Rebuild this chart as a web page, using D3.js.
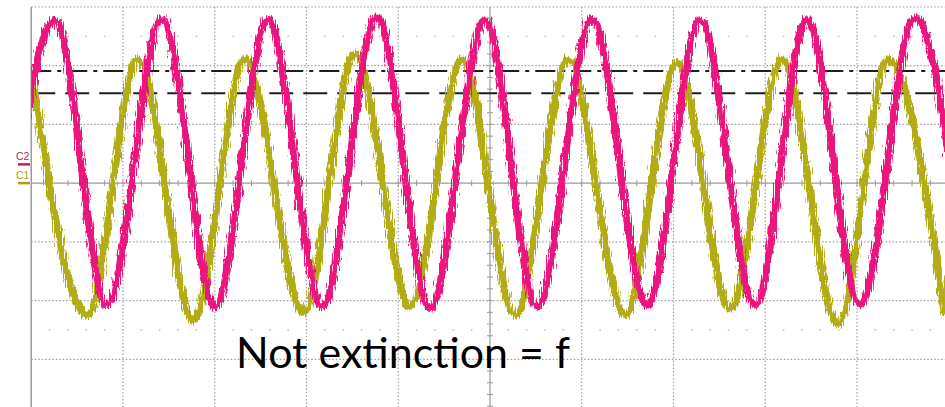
<!DOCTYPE html>
<html>
<head>
<meta charset="utf-8">
<script src="https://cdn.jsdelivr.net/npm/d3@7"></script>
<style>
  html, body { margin: 0; padding: 0; background: #fff; }
  svg { display: block; }
</style>
</head>
<body>
<svg id="scope" width="945" height="407"></svg>
<script>
// scope readings, in divisions (time) and divisions (volts)
var c2Times = [-0.33, 0.259, 0.826, 1.425, 2.003, 2.58, 3.169, 3.768, 4.346, 4.946, 5.513, 6.112, 6.712, 7.289, 7.889, 8.455, 9.033, 9.632, 10.21];
var c2Values = [-2.05, 2.78, -2.07, 2.8, -2.1, 2.78, -2.1, 2.82, -2.13, 2.78, -2.1, 2.8, -2.07, 2.78, -2.07, 2.78, -2.07, 2.82, -2.08];

var c1Times = [0.0, 0.608, 1.163, 1.764, 2.33, 2.963, 3.529, 4.129, 4.695, 5.273, 5.85, 6.472, 7.038, 7.616, 8.182, 8.793, 9.338, 9.958];
var c1Values = [1.95, -2.25, 2.11, -2.33, 2.11, -2.2, 2.2, -2.1, 2.1, -2.25, 2.1, -2.25, 2.05, -2.13, 2.1, -2.4, 2.1, -2.25];

var cursorLevels = [1.91, 1.53];
var groundLevels = { C2: 0.32, C1: 0 };
var caption = "Not extinction = f";

var svg = d3.select("#scope"),
  width = +svg.attr("width"),
  height = +svg.attr("height");

var x = d3.scaleLinear().domain([0, 10]).range([31.25, 948.75]);
var y = d3.scaleLinear().domain([-4, 3]).range([418, 7]);

var defs = svg.append("defs");
defs
  .append("clipPath")
  .attr("id", "screen")
  .append("rect")
  .attr("x", x(0))
  .attr("y", y(3) - 1)
  .attr("width", width - x(0))
  .attr("height", height);

// rough edges like the noisy trace
var rough = defs
  .append("filter")
  .attr("id", "rough")
  .attr("x", "-5%")
  .attr("y", "-5%")
  .attr("width", "110%")
  .attr("height", "110%");
rough
  .append("feTurbulence")
  .attr("type", "fractalNoise")
  .attr("baseFrequency", "0.9 0.08")
  .attr("numOctaves", 2)
  .attr("seed", 3)
  .attr("result", "noise");
rough
  .append("feDisplacementMap")
  .attr("in", "SourceGraphic")
  .attr("in2", "noise")
  .attr("scale", 9)
  .attr("xChannelSelector", "R")
  .attr("yChannelSelector", "G");

var grid = svg.append("g");

// dotted graticule
grid
  .selectAll("line.hgrid")
  .data(d3.range(-4, 4).filter((d) => d !== 0))
  .join("line")
  .attr("class", "hgrid")
  .attr("x1", x(0))
  .attr("x2", width)
  .attr("y1", (d) => y(d))
  .attr("y2", (d) => y(d))
  .attr("stroke", "#a0a0a0")
  .attr("stroke-width", 1.2)
  .attr("stroke-dasharray", "1.5,2");

grid
  .selectAll("line.vgrid")
  .data(d3.range(1, 10).filter((d) => d !== 5))
  .join("line")
  .attr("class", "vgrid")
  .attr("x1", (d) => x(d))
  .attr("x2", (d) => x(d))
  .attr("y1", y(3))
  .attr("y2", height)
  .attr("stroke", "#a0a0a0")
  .attr("stroke-width", 1.2)
  .attr("stroke-dasharray", "1.5,2");

// faint dot rows
[2.5, -2.5].forEach((lvl) => {
  grid
    .append("g")
    .selectAll("circle")
    .data(d3.range(1, 50))
    .join("circle")
    .attr("cx", (d) => x(d / 5))
    .attr("cy", y(lvl))
    .attr("r", 0.9)
    .attr("fill", "#c4c4c4");
});

// solid center axes and left edge
grid
  .append("line")
  .attr("x1", x(0))
  .attr("x2", x(0))
  .attr("y1", y(3))
  .attr("y2", height)
  .attr("stroke", "#9a9a9a")
  .attr("stroke-width", 1.5);
grid
  .append("line")
  .attr("x1", x(0))
  .attr("x2", width)
  .attr("y1", y(0))
  .attr("y2", y(0))
  .attr("stroke", "#9a9a9a")
  .attr("stroke-width", 1.2);
grid
  .append("line")
  .attr("x1", x(5))
  .attr("x2", x(5))
  .attr("y1", y(3))
  .attr("y2", height)
  .attr("stroke", "#9a9a9a")
  .attr("stroke-width", 1.2);

grid
  .selectAll("line.htick")
  .data(d3.range(1, 50))
  .join("line")
  .attr("class", "htick")
  .attr("x1", (d) => x(d / 5))
  .attr("x2", (d) => x(d / 5))
  .attr("y1", y(0) - 3)
  .attr("y2", y(0) + 3)
  .attr("stroke", "#9a9a9a");
grid
  .selectAll("line.vtick")
  .data(d3.range(-20, 15))
  .join("line")
  .attr("class", "vtick")
  .attr("x1", x(5) - 3)
  .attr("x2", x(5) + 3)
  .attr("y1", (d) => y(d / 5))
  .attr("y2", (d) => y(d / 5))
  .attr("stroke", "#9a9a9a");

// cursors
svg
  .selectAll("line.cursor")
  .data(cursorLevels)
  .join("line")
  .attr("class", "cursor")
  .attr("x1", x(0))
  .attr("x2", width)
  .attr("y1", (d) => y(d))
  .attr("y2", (d) => y(d))
  .attr("stroke", "#1e1e1e")
  .attr("stroke-width", 2)
  .attr("stroke-dasharray", (d, i) => (i === 0 ? "20,6,4,6" : "24,10"));

var line = d3
  .line()
  .curve(d3.curveMonotoneX)
  .x((d) => x(d[0]))
  .y((d) => y(d[1]));

var traces = svg.append("g").attr("clip-path", "url(#screen)");

traces
  .append("path")
  .datum(d3.zip(c1Times, c1Values))
  .attr("d", line)
  .attr("fill", "none")
  .attr("stroke", "#b2ad12")
  .attr("stroke-width", 7.5)
  .attr("filter", "url(#rough)");

traces
  .append("path")
  .datum(d3.zip(c2Times, c2Values))
  .attr("d", line)
  .attr("fill", "none")
  .attr("stroke", "#ea167d")
  .attr("stroke-width", 7.5)
  .attr("filter", "url(#rough)");

// channel ground markers
var markers = [
  { name: "C2", level: groundLevels.C2, color: "#b8246e" },
  { name: "C1", level: groundLevels.C1, color: "#a9a313" },
];
markers.forEach((m) => {
  svg
    .append("line")
    .attr("x1", 18)
    .attr("x2", 30)
    .attr("y1", y(m.level))
    .attr("y2", y(m.level))
    .attr("stroke", m.color)
    .attr("stroke-width", 2.5);
  svg
    .append("text")
    .attr("x", 16)
    .attr("y", y(m.level) - 4.5)
    .style("font-family", "Liberation Sans")
    .style("font-size", "10.5px")
    .style("fill", m.color)
    .text(m.name);
});

svg
  .append("text")
  .attr("x", 236)
  .attr("y", 368)
  .attr("textLength", 334)
  .attr("lengthAdjust", "spacingAndGlyphs")
  .style("font-family", "Lato")
  .style("font-size", "42px")
  .style("fill", "#000")
  .text(caption);
</script>
</body>
</html>
